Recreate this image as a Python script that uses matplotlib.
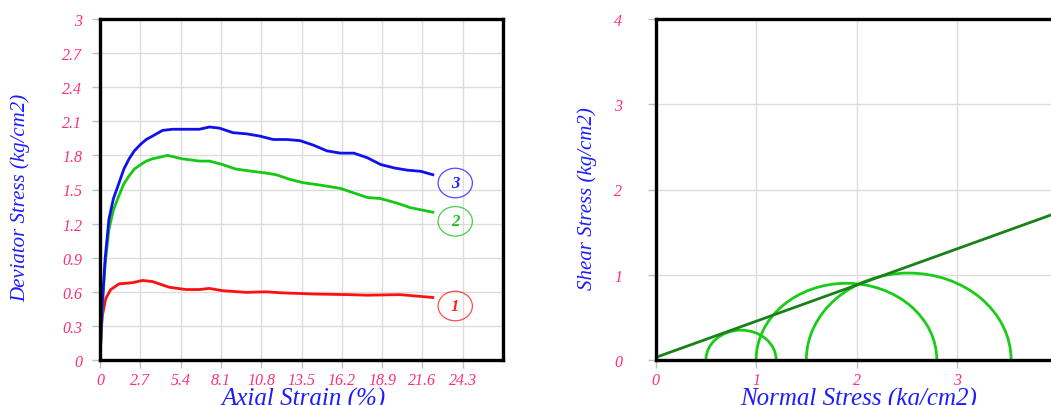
import numpy as np
import matplotlib
matplotlib.use("Agg")
import matplotlib.pyplot as plt
from matplotlib.patches import Ellipse, Arc

# ---------------- data ----------------
strain_blue = [0, 0.15, 0.35, 0.6, 0.9, 1.28, 1.6, 1.95, 2.3, 2.74, 3.1, 3.52, 4.19, 4.87, 5.76, 6.66, 7.33,
               8.0, 8.9, 9.8, 10.7, 11.6, 12.5, 13.4, 14.3, 15.2, 16.1, 17.0, 17.9, 18.8, 19.7, 20.6, 21.5, 22.3]
dev_blue = [0, 0.5, 0.9, 1.24, 1.42, 1.56, 1.68, 1.77, 1.84, 1.90, 1.94, 1.97, 2.02, 2.03, 2.03, 2.03, 2.05,
            2.04, 2.00, 1.99, 1.97, 1.94, 1.94, 1.93, 1.89, 1.84, 1.82, 1.82, 1.78, 1.72, 1.69, 1.67, 1.66, 1.63]

strain_green = [0, 0.15, 0.35, 0.6, 0.9, 1.28, 1.6, 1.95, 2.3, 2.74, 3.1, 3.52, 4.53, 5.5, 6.66, 7.33, 8.2,
                9.1, 10.2, 11.1, 11.8, 12.7, 13.6, 14.7, 16.1, 17.0, 17.9, 18.8, 19.9, 20.8, 22.3]
dev_green = [0, 0.45, 0.85, 1.15, 1.32, 1.45, 1.55, 1.62, 1.68, 1.72, 1.75, 1.77, 1.80, 1.77, 1.75, 1.75, 1.72,
             1.68, 1.66, 1.645, 1.63, 1.59, 1.56, 1.54, 1.51, 1.47, 1.43, 1.42, 1.38, 1.34, 1.30]

strain_red = [0, 0.08, 0.16, 0.38, 0.72, 1.28, 2.17, 2.85, 3.52, 4.64, 5.76, 6.66, 7.33, 8.2, 9.8, 11.1,
              12.3, 14.5, 16.7, 17.9, 20.1, 22.3]
dev_red = [0, 0.25, 0.39, 0.54, 0.62, 0.67, 0.68, 0.70, 0.69, 0.64, 0.62, 0.62, 0.63, 0.61, 0.595, 0.60,
           0.59, 0.58, 0.575, 0.57, 0.575, 0.55]

strain_ticks = [0, 2.7, 5.4, 8.1, 10.8, 13.5, 16.2, 18.9, 21.6, 24.3]
dev_ticks = [0, 0.3, 0.6, 0.9, 1.2, 1.5, 1.8, 2.1, 2.4, 2.7, 3]
curve_labels = ["1", "2", "3"]
label_y = [0.475, 1.22, 1.557]

sigma3 = [0.5, 1.0, 1.5]
sigma1 = [1.2, 2.8, 3.54]
cohesion = 0.03
phi_deg = 23.0
normal_ticks = [0, 1, 2, 3]
shear_ticks = [0, 1, 2, 3, 4]

# ---------------- style ----------------
FONT = "Liberation Serif"
PINK = "#ff2d7a"
BLUE = "#1c1cff"
GRID = "#dcdcdc"
TICKC = "#c0c0c0"

fig = plt.figure(figsize=(10.51, 4.06), dpi=100)

def style_axes(ax, ypad):
    for s in ax.spines.values():
        s.set_linewidth(2.4)
        s.set_color("black")
        s.set_zorder(5)
    ax.grid(True, color=GRID, linewidth=1.0)
    ax.set_axisbelow(True)
    ax.tick_params(direction="out", length=6, width=1, color=TICKC, labelcolor=PINK,
                   labelsize=11.5)
    ax.tick_params(axis="x", pad=3)
    ax.tick_params(axis="y", pad=ypad)
    for lab in ax.get_xticklabels() + ax.get_yticklabels():
        lab.set_fontfamily(FONT)
        lab.set_fontstyle("italic")

# ---------------- left chart ----------------
ax1 = fig.add_axes([100 / 1051, 45 / 406, 403 / 1051, 341 / 406])
ax1.plot(strain_red, dev_red, color="#ff1010", lw=2.0)
ax1.plot(strain_green, dev_green, color="#14c814", lw=2.0)
ax1.plot(strain_blue, dev_blue, color="#1010ee", lw=2.0)
ax1.set_xlim(0, 27)
ax1.set_ylim(0, 3)
ax1.set_xticks(strain_ticks)
ax1.set_yticks(dev_ticks)
ax1.set_xticklabels([f"{t:g}" for t in strain_ticks])
ax1.set_yticklabels([f"{t:g}" for t in dev_ticks])
style_axes(ax1, 7)
ax1.set_xlabel("Axial Strain (%)", fontfamily=FONT, fontstyle="italic", fontsize=18, color=BLUE)
ax1.set_ylabel("Deviator Stress (kg/cm2)", fontfamily=FONT, fontstyle="italic", fontsize=15, color=BLUE)
ax1.xaxis.set_label_coords(0.506, -0.08)
ax1.yaxis.set_label_coords(-0.172, 0.477)

lab_colors = ["#ff2020", "#20c020", "#2020ff"]
for lab, yv, c in zip(curve_labels, label_y, lab_colors):
    ax1.add_patch(Ellipse((23.8, yv), 2.3, 0.26, fill=False, edgecolor=c, lw=0.9, alpha=0.8, zorder=4))
    ax1.text(23.8, yv, lab, color=c, fontfamily=FONT, fontstyle="italic", fontweight="bold",
             fontsize=12, ha="center", va="center", zorder=4)

# ---------------- right chart ----------------
ax2 = fig.add_axes([655.7 / 1051, 45 / 406, 401.6 / 1051, 341 / 406])
ax2.set_xlim(0, 4)
ax2.set_ylim(0, 4)
for s3, s1 in zip(sigma3, sigma1):
    c = (s1 + s3) / 2
    r = (s1 - s3) / 2
    ax2.add_patch(Arc((c, 0), 2 * r, 2 * r, theta1=0, theta2=180, color="#18cc18", lw=2.0, zorder=3))
xs = np.array([0, 4])
ax2.plot(xs, cohesion + np.tan(np.radians(phi_deg)) * xs, color="#1a801a", lw=2.0, zorder=3)
ax2.set_xticks(normal_ticks)
ax2.set_yticks(shear_ticks)
ax2.set_xticklabels([str(t) for t in normal_ticks])
ax2.set_yticklabels([str(t) for t in shear_ticks])
style_axes(ax2, 18)
ax2.set_xlabel("Normal Stress (kg/cm2)", fontfamily=FONT, fontstyle="italic", fontsize=18, color=BLUE)
ax2.set_ylabel("Shear Stress (kg/cm2)", fontfamily=FONT, fontstyle="italic", fontsize=15, color=BLUE)
ax2.xaxis.set_label_coords(0.505, -0.08)
ax2.yaxis.set_label_coords(-0.145, 0.477)

fig.savefig("out.png", dpi=100)
